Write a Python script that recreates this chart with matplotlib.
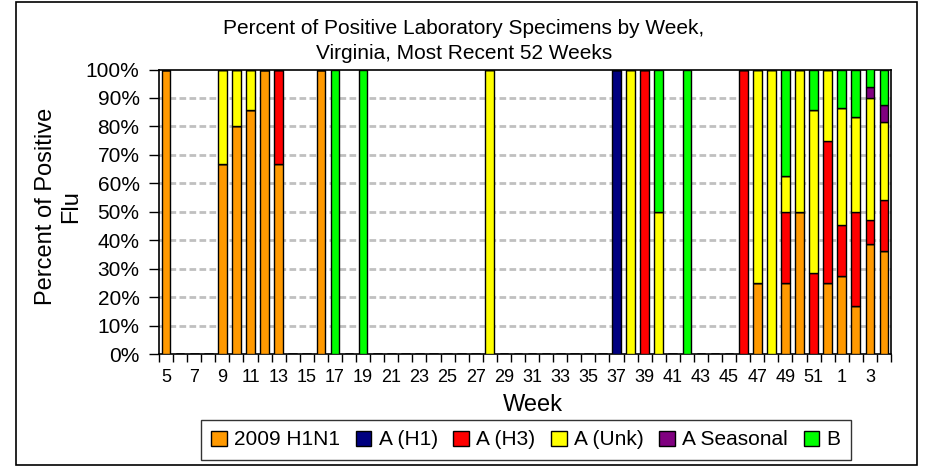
import numpy as np
import matplotlib.pyplot as plt
from matplotlib.patches import Rectangle, Patch
from matplotlib.ticker import PercentFormatter

plt.rcParams['font.family'] = ['Liberation Sans', 'DejaVu Sans']

# weeks shown, oldest first (week 5 of one year to week 4 of the next)
weeks = list(range(5, 53)) + [1, 2, 3, 4]

# percent of positive specimens per type, keyed by week (missing = 0)
h1n1_2009 = {5: 100, 9: 66.7, 10: 80, 11: 85.7, 12: 100, 13: 66.7, 16: 100,
             47: 25, 49: 25, 50: 50, 52: 25, 1: 27.3, 2: 16.7, 3: 38.8, 4: 36.1}
a_h1 = {37: 100}
a_h3 = {13: 33.3, 39: 100, 46: 100, 49: 25, 51: 28.6, 52: 50,
        1: 18.2, 2: 33.3, 3: 8.2, 4: 18.2}
a_unk = {9: 33.3, 10: 20, 11: 14.3, 28: 100, 38: 100, 40: 50, 47: 75, 48: 100,
         49: 12.5, 50: 50, 51: 57.1, 52: 25, 1: 40.9, 2: 33.3, 3: 42.9, 4: 27.3}
a_seasonal = {3: 4.1, 4: 6.1}
b = {17: 100, 19: 100, 40: 50, 42: 100, 49: 37.5, 51: 14.3,
     1: 13.6, 2: 16.7, 3: 6.1, 4: 12.3}

series = [('2009 H1N1', h1n1_2009, '#FF9900'),
          ('A (H1)', a_h1, '#000080'),
          ('A (H3)', a_h3, '#FF0000'),
          ('A (Unk)', a_unk, '#FFFF00'),
          ('A Seasonal', a_seasonal, '#800080'),
          ('B', b, '#00FF00')]

fig = plt.figure(figsize=(9.39, 4.70), dpi=100)
ax = fig.add_axes([0.1693, 0.2468, 0.7796, 0.6053])

x = np.arange(len(weeks))
bottom = np.zeros(len(weeks))
for name, vals, col in series:
    h = np.array([vals.get(w, 0) for w in weeks]) / 100.0
    ax.bar(x, h, width=0.62, bottom=bottom, color=col, edgecolor='black',
           linewidth=1, label=name, zorder=3)
    bottom += h

ax.set_xlim(-0.5, len(weeks) - 0.5)
ax.set_ylim(0, 1)
ax.set_yticks(np.arange(0, 1.01, 0.1))
ax.yaxis.set_major_formatter(PercentFormatter(1.0, decimals=0))
ax.set_xticks(x[::2])
ax.set_xticklabels([str(w) for w in weeks[::2]])
ax.set_xticks(np.arange(-0.5, len(weeks)), minor=True)
ax.tick_params(axis='x', which='major', length=0, labelsize=13, pad=11)
ax.tick_params(axis='x', which='minor', length=6, width=1, direction='out')
ax.tick_params(axis='y', length=7, width=1, labelsize=15, pad=7)

for yv in np.arange(0.1, 0.95, 0.1):
    ax.axhline(yv, color='#C0C0C0', linestyle=(0, (2.4, 1.2)), linewidth=2, zorder=1)

for s in ax.spines.values():
    s.set_linewidth(1.2)
    s.set_color('black')

ax.set_ylabel('Percent of Positive\nFlu', fontsize=17, linespacing=1.2)
ax.yaxis.set_label_coords(-0.105, 0.52)
ax.set_xlabel('Week', fontsize=17)
ax.xaxis.set_label_coords(0.511, -0.14)

fig.text(0.494, 0.913, 'Percent of Positive Laboratory Specimens by Week,\n'
         'Virginia, Most Recent 52 Weeks', ha='center', va='center',
         fontsize=15, linespacing=1.35)

handles = [Patch(facecolor=col, edgecolor='black', label=name) for name, _, col in series]
leg = fig.legend(handles=handles, loc='center', bbox_to_anchor=(0.560, 0.064),
                 ncol=6, fontsize=15, frameon=True, fancybox=False,
                 handlelength=0.75, handleheight=0.75, handletextpad=0.35,
                 columnspacing=0.75, borderpad=0.5, borderaxespad=0)
leg.get_frame().set_edgecolor('black')
leg.get_frame().set_linewidth(1)

# outer border around the chart
fig.patches.append(Rectangle((0.017, 0.011), 0.9595, 0.984, transform=fig.transFigure,
                             fill=False, edgecolor='black', linewidth=1.2))

fig.savefig('out.png', dpi=100)
